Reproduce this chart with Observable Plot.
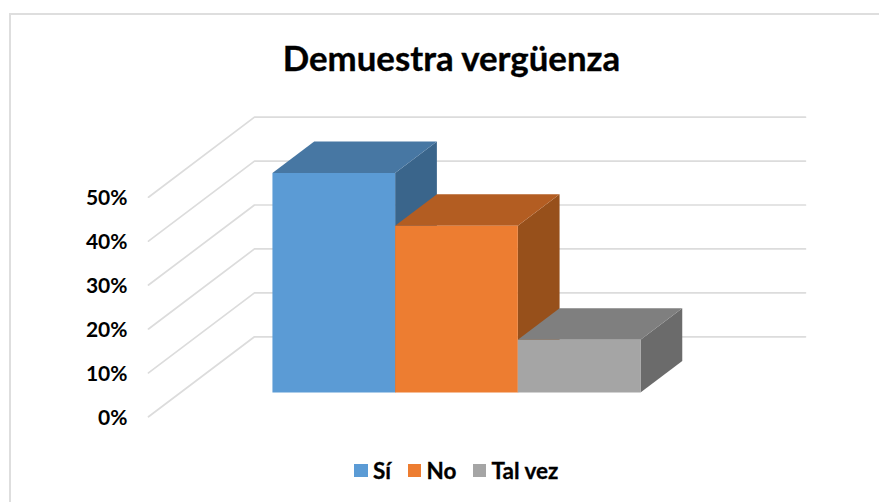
<!DOCTYPE html>
<html><head><meta charset="utf-8">
<script src="https://cdn.jsdelivr.net/npm/d3@7"></script>
<script src="https://cdn.jsdelivr.net/npm/@observablehq/plot@0.6"></script>
<style>
html,body{margin:0;padding:0;background:#fff;width:879px;height:502px;overflow:hidden}
body{font-family:Lato,Carlito,sans-serif;font-weight:700;color:#000}
#frame{position:absolute;left:9px;top:13px;width:880px;height:520px;border:2px solid #dedede;border-bottom:none;border-right:none;box-sizing:border-box}
#title{position:absolute;left:0;width:879px;top:35px;text-align:center;font-size:34.8px;line-height:46px;padding-left:24px;box-sizing:border-box;-webkit-text-stroke:.35px #000}
#chart{position:absolute;left:0;top:90px}
#chart svg{overflow:visible}
#legend{position:absolute;top:458px;left:0;font-size:22.5px;line-height:26px;-webkit-text-stroke:.3px #000}
#legend span{position:absolute;white-space:nowrap}
#legend i{position:absolute;width:13.5px;height:13px;top:6px}
</style></head><body>
<div id="frame"></div>
<div id="title">Demuestra vergüenza</div>
<div id="chart"></div>
<div id="legend"></div>
<script>
const categories = ["Sí", "No", "Tal vez"];
const values = [50, 38, 12];
const front = ["#5b9bd5", "#ed7d31", "#a5a5a5"];
const topFace = ["#4777a3", "#b35d22", "#7f7f7f"];
const sideFace = ["#3a658b", "#97501b", "#6b6b6b"];
const ticks = [0, 10, 20, 30, 40, 50];
const legendX = [354, 407.5, 472.5];

const depthX = 0.577, depthY = 18.22;   // receding axis, in x slots and percentage points
const barStart = 0.5, barWidth = 0.668, d0 = 0.303, d1 = 0.697;
const P = (x, v, d, id, color) => ({x: x + d * depthX, y: v + d * depthY, id, color});

const walls = ticks.map(t => [P(0, t, 0, "g" + t), P(0, t, 1, "g" + t), P(3, t, 1, "g" + t)]).flat();

const faces = [];
categories.forEach((c, i) => {
  const a = barStart + i * barWidth, b = a + barWidth, v = values[i];
  const poly = (name, color, pts) => pts.forEach(p => faces.push(P(p[0], p[1], p[2], c + name, color)));
  poly("side", sideFace[i], [[b, 0, d0], [b, 0, d1], [b, v, d1], [b, v, d0]]);
  poly("top", topFace[i], [[a, v, d0], [a, v, d1], [b, v, d1], [b, v, d0]]);
  poly("front", front[i], [[a, 0, d0], [b, 0, d0], [b, v, d0], [a, v, d0]]);
});

const plot = Plot.plot({
  width: 879, height: 360,
  marginLeft: 148, marginRight: 180, marginTop: 106.7, marginBottom: 33.7,
  x: {domain: [0, 3], axis: null},
  y: {domain: [0, 50]},
  color: {type: "identity"},
  style: {fontFamily: "Lato, Carlito, sans-serif", background: "transparent", overflow: "visible"},
  marks: [
    Plot.line(walls, {x: "x", y: "y", z: "id", stroke: "#dcdcdc", strokeWidth: 1.7, curve: "linear"}),
    Plot.line(faces, {x: "x", y: "y", z: "id", fill: "color", stroke: "none", curve: "linear"}),
    Plot.axisY(ticks, {anchor: "left", tickSize: 0, tickPadding: 21, label: null,
      tickFormat: d => d + "%", fontSize: 21, fontWeight: 700, fill: "#000", stroke: "#000", strokeWidth: 0.3, dy: 1})
  ]
});
document.getElementById("chart").appendChild(plot);

const lg = document.getElementById("legend");
categories.forEach((c, i) => {
  const s = document.createElement("span");
  s.style.left = (legendX[i] + 19) + "px";
  s.textContent = c;
  const sw = document.createElement("i");
  sw.style.left = "-19px"; sw.style.background = front[i];
  s.appendChild(sw);
  lg.appendChild(s);
});
</script>
</body></html>
